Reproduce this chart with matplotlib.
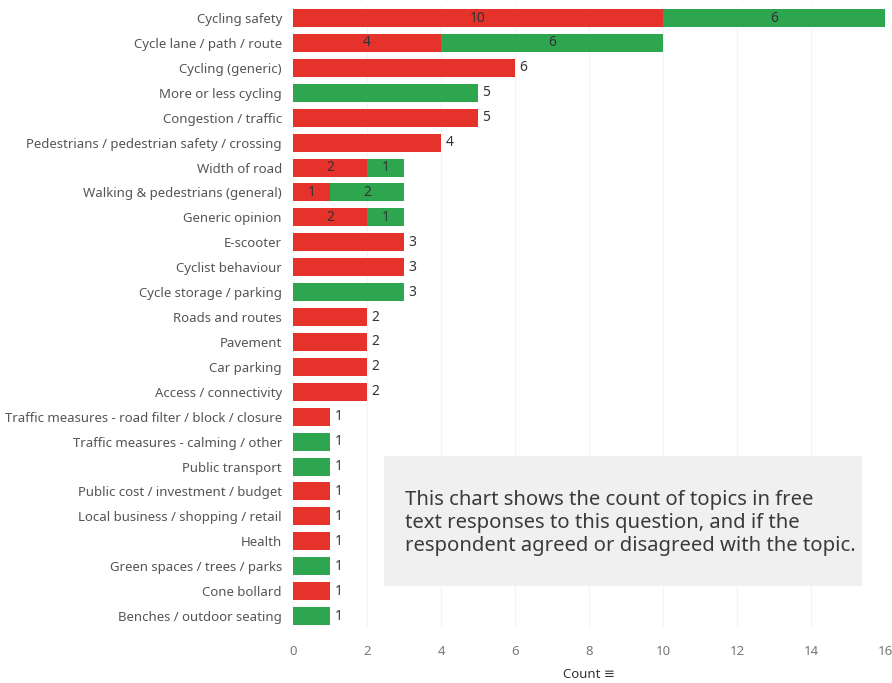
import numpy as np
import matplotlib.pyplot as plt

# topics, top to bottom
topics = [
    'Cycling safety', 'Cycle lane / path / route', 'Cycling (generic)',
    'More or less cycling', 'Congestion / traffic',
    'Pedestrians / pedestrian safety / crossing', 'Width of road',
    'Walking & pedestrians (general)', 'Generic opinion', 'E-scooter',
    'Cyclist behaviour', 'Cycle storage / parking', 'Roads and routes',
    'Pavement', 'Car parking', 'Access / connectivity',
    'Traffic measures - road filter / block / closure',
    'Traffic measures - calming / other', 'Public transport',
    'Public cost / investment / budget', 'Local business / shopping / retail',
    'Health', 'Green spaces / trees / parks', 'Cone bollard',
    'Benches / outdoor seating',
]
disagree = [10, 4, 6, 0, 5, 4, 2, 1, 2, 3, 3, 0, 2, 2, 2, 2, 1, 0, 0, 1, 1, 1, 0, 1, 0]
agree = [6, 6, 0, 5, 0, 0, 1, 2, 1, 0, 0, 3, 0, 0, 0, 0, 0, 1, 1, 0, 0, 0, 1, 0, 1]
xticks = [0, 2, 4, 6, 8, 10, 12, 14, 16]
note = ('This chart shows the count of topics in free\n'
        'text responses to this question, and if the\n'
        'respondent agreed or disagreed with the topic.')

red = '#e5322b'
green = '#2ea64f'
txt = '#555555'

plt.rcParams['font.family'] = ['Noto Sans', 'DejaVu Sans']

fig = plt.figure(figsize=(8.92, 6.83), dpi=100)
ax = fig.add_axes([0.3285, 0.0798, 0.6637, 0.912])

y = np.arange(len(topics))
d = np.array(disagree)
a = np.array(agree)
ax.barh(y, d, height=0.72, color=red, zorder=2)
ax.barh(y, a, left=d, height=0.72, color=green, zorder=2)

for i in range(len(topics)):
    if d[i] > 0 and a[i] > 0:
        ax.text(d[i] / 2, y[i], str(d[i]), ha='center', va='center', fontsize=10, color='#333333', zorder=3)
        ax.text(d[i] + a[i] / 2, y[i], str(a[i]), ha='center', va='center', fontsize=10, color='#333333', zorder=3)
    else:
        ax.text(d[i] + a[i] + 0.12, y[i], str(d[i] + a[i]), ha='left', va='center', fontsize=10, color='#333333', zorder=3)

ax.set_ylim(len(topics) - 0.5, -0.5)
ax.set_xlim(0, 16)
ax.set_yticks(y)
ax.set_yticklabels(topics, fontsize=9.5, color=txt)
ax.set_xticks(xticks)
ax.set_xticklabels([str(t) for t in xticks], fontsize=9.5, color='#777777')
ax.tick_params(length=0, axis='y', pad=8)
ax.tick_params(length=0, axis='x', pad=12)
for s in ax.spines.values():
    s.set_visible(False)
ax.grid(axis='x', color='#f5f5f5', linewidth=1, zorder=0)
ax.set_xlabel('Count \u2261', fontsize=9.5, color='#333333', labelpad=7)

# note box
fig.patches.append(plt.Rectangle((384 / 892, 1 - 586 / 683), 478 / 892, 130 / 683,
                                 transform=fig.transFigure, facecolor='#f0f0f0',
                                 edgecolor='none', zorder=5))
fig.text(405 / 892, 1 - 523 / 683, note, fontsize=14.6, color='#3a3a3a',
         va='center', ha='left', linespacing=1.18, fontweight='light', zorder=6)

fig.savefig('out.png', dpi=100)
